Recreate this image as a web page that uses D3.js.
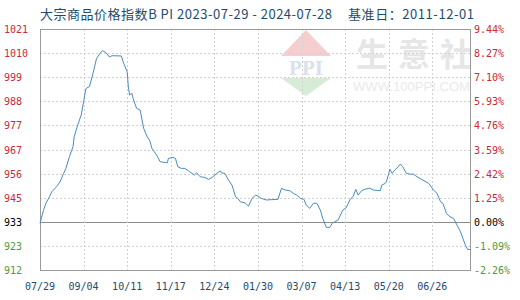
<!DOCTYPE html>
<html>
<head>
<meta charset="utf-8">
<script src="https://cdn.jsdelivr.net/npm/d3@7"></script>
<style>
  body { margin: 0; background: #fff; }
  svg { display: block; }
</style>
</head>
<body>
<div class="chart"></div>
<script>
const width = 520;
const height = 300;

// chart data
const dates = ["2023-07-29","2023-08-01","2023-08-03","2023-08-06","2023-08-08","2023-08-12","2023-08-15","2023-08-18","2023-08-20","2023-08-23",
  "2023-08-26","2023-08-27","2023-08-30","2023-09-02","2023-09-04","2023-09-06","2023-09-09","2023-09-12","2023-09-15","2023-09-18",
  "2023-09-20","2023-09-23","2023-09-26","2023-09-28","2023-10-06","2023-10-08","2023-10-11","2023-10-12","2023-10-13","2023-10-15",
  "2023-10-16","2023-10-19","2023-10-22","2023-10-25","2023-10-28","2023-10-30","2023-11-01","2023-11-05","2023-11-08","2023-11-14",
  "2023-11-15","2023-11-19","2023-11-21","2023-11-23","2023-11-26","2023-11-29","2023-12-03","2023-12-07","2023-12-09","2023-12-12",
  "2023-12-16","2023-12-19","2023-12-22","2023-12-26","2023-12-29","2023-12-30","2024-01-02","2024-01-05","2024-01-08","2024-01-11",
  "2024-01-13","2024-01-15","2024-01-19","2024-01-22","2024-01-25","2024-01-28","2024-01-30","2024-02-02","2024-02-06","2024-02-16",
  "2024-02-19","2024-02-22","2024-02-26","2024-02-29","2024-03-03","2024-03-06","2024-03-09","2024-03-11","2024-03-14","2024-03-17",
  "2024-03-20","2024-03-23","2024-03-25","2024-03-28","2024-03-31","2024-04-02","2024-04-04","2024-04-07","2024-04-11","2024-04-14",
  "2024-04-17","2024-04-20","2024-04-22","2024-04-24","2024-04-27","2024-04-30","2024-05-04","2024-05-07","2024-05-13","2024-05-14",
  "2024-05-17","2024-05-18","2024-05-20","2024-05-21","2024-05-23","2024-05-25","2024-05-28","2024-05-30","2024-06-01","2024-06-04",
  "2024-06-07","2024-06-10","2024-06-13","2024-06-18","2024-06-23","2024-06-27","2024-06-30","2024-07-03","2024-07-05","2024-07-08",
  "2024-07-11","2024-07-14","2024-07-17","2024-07-20","2024-07-22","2024-07-24","2024-07-26","2024-07-28"];
const bpi = [933.0,939.0,942.1,945.0,947.3,949.6,951.8,955.6,957.9,963.2,
  967.7,972.2,977.5,982.1,988.1,994.1,994.9,1000.9,1007.7,1010.0,
  1011.2,1010.3,1008.3,1008.9,1008.8,1005.5,1001.7,994.9,991.1,991.9,
  989.6,985.1,984.3,976.0,972.2,970.7,967.0,963.9,960.9,960.4,
  962.4,962.9,962.4,958.6,957.9,957.9,956.4,954.9,955.9,954.1,
  953.8,952.9,953.8,955.6,956.8,955.9,955.6,952.6,950.3,945.0,
  944.3,942.8,942.3,940.8,944.3,945.8,945.4,944.3,943.6,943.9,
  948.9,948.1,947.8,946.6,945.8,944.3,943.9,941.3,939.8,942.1,
  942.1,939.0,935.3,931.2,931.2,933.0,933.7,934.5,939.0,940.2,
  943.6,945.4,948.4,945.8,947.8,948.5,948.9,948.1,947.8,950.3,
  951.1,951.8,955.6,957.5,955.6,957.1,958.6,959.9,958.6,955.6,
  955.3,955.3,954.1,952.6,951.1,948.1,946.6,942.8,942.1,937.5,
  936.0,935.3,932.2,929.2,926.2,923.2,921.2,921.2];

const leftLabels = ["1021","1010","999","988","977","967","956","945","933","923","912"];
const rightLabels = ["9.44%","8.27%","7.10%","5.93%","4.76%","3.59%","2.42%","1.25%","0.00%","-1.09%","-2.26%"];
const xTickDates = ["2023-07-29","2023-09-04","2023-10-11","2023-11-17","2023-12-24","2024-01-30","2024-03-07","2024-04-13","2024-05-20","2024-06-26"];
const baseIndex = 8; // the 933 / 0.00% row
const title = "大宗商品价格指数B PI 2023-07-29 - 2024-07-28";
const baseDate = "基准日：2011-12-01";

const parse = d3.timeParse("%Y-%m-%d");
const fmt = d3.timeFormat("%m/%d");
const data = dates.map((d, i) => ({ date: parse(d), value: bpi[i] }));

const plotLeft = 40, plotRight = 470, plotTop = 29, plotBottom = 270;

const svg = d3.select(".chart").append("svg").attr("width", width).attr("height", height);

const x = d3.scaleTime().domain([parse("2023-07-29"), parse("2024-07-28")]).range([plotLeft, plotRight]);
const y = d3.scaleLinear().domain([911.9, 1021.0]).range([plotBottom, plotTop]);
const row = d3.scaleLinear().domain([0, leftLabels.length - 1]).range([plotTop, plotBottom]);

function labelColor(i) {
    if (i < baseIndex) return "#c8283c";
    if (i == baseIndex) return "#000000";
    return "#4e9a3e";
}

// watermark
const wm = svg.append("g").attr("opacity", 0.6);
wm.append("path").attr("d", "M306,30 L331,56 L281,56 Z").attr("fill", "#f0b0b0");
wm.append("path").attr("d", "M281,78 L331,78 L306,96 Z").attr("fill", "#bde0bd");
wm.append("text").attr("x", 306).attr("y", 75).attr("text-anchor", "middle")
    .attr("font-family", "Liberation Serif").attr("font-size", 21).attr("font-weight", "bold")
    .attr("fill", "#c2cde0").text("PPI");
wm.append("text").attr("x", 356).attr("y", 66)
    .attr("font-family", "Noto Sans CJK SC").attr("font-size", 32).attr("font-weight", "bold")
    .attr("textLength", 116).attr("lengthAdjust", "spacing")
    .attr("fill", "#d6d6d6").text("生意社");
wm.append("text").attr("x", 353).attr("y", 91)
    .attr("font-family", "Liberation Sans").attr("font-size", 12)
    .attr("textLength", 117).attr("lengthAdjust", "spacingAndGlyphs")
    .attr("fill", "#dcdcdc").text("WWW.100PPI.COM");

// grid
svg.append("g").selectAll("line").data(leftLabels).enter().append("line")
    .attr("x1", plotLeft).attr("x2", plotRight)
    .attr("y1", (d, i) => Math.round(row(i)) + 0.5).attr("y2", (d, i) => Math.round(row(i)) + 0.5)
    .attr("stroke", (d, i) => i == baseIndex ? "#8c8c8c" : "#d0d0d0")
    .attr("stroke-dasharray", (d, i) => i == baseIndex ? null : "2,2");

svg.append("g").selectAll("line").data(xTickDates.slice(1)).enter().append("line")
    .attr("x1", d => Math.round(x(parse(d))) + 0.5).attr("x2", d => Math.round(x(parse(d))) + 0.5)
    .attr("y1", plotTop).attr("y2", plotBottom)
    .attr("stroke", "#d0d0d0").attr("stroke-dasharray", "2,2");

// frame
svg.append("rect").attr("x", plotLeft + 0.5).attr("y", plotTop + 0.5)
    .attr("width", plotRight - plotLeft).attr("height", plotBottom - plotTop)
    .attr("fill", "none").attr("stroke", "#9a9a9a");

// line
const line = d3.line().x(d => x(d.date)).y(d => y(d.value));
svg.append("path").datum(data).attr("d", line)
    .attr("fill", "none").attr("stroke", "#4b8bbe").attr("stroke-width", 1);

// axis labels
svg.append("g").selectAll("text").data(leftLabels).enter().append("text")
    .attr("x", 4).attr("y", (d, i) => row(i) + 4)
    .attr("font-family", "DejaVu Sans Mono").attr("font-size", 10)
    .attr("fill", (d, i) => labelColor(i)).text(d => d);

svg.append("g").selectAll("text").data(rightLabels).enter().append("text")
    .attr("x", 474).attr("y", (d, i) => row(i) + 4)
    .attr("font-family", "DejaVu Sans Mono").attr("font-size", 10)
    .attr("fill", (d, i) => labelColor(i)).text(d => d);

svg.append("g").selectAll("text").data(xTickDates).enter().append("text")
    .attr("x", d => x(parse(d))).attr("y", 290).attr("text-anchor", "middle")
    .attr("font-family", "DejaVu Sans Mono").attr("font-size", 10)
    .attr("fill", "#1e4b6e").text(d => fmt(parse(d)));

// title
svg.append("text").attr("x", 40).attr("y", 19)
    .attr("font-family", "Noto Sans CJK SC").attr("font-size", 13)
    .attr("textLength", 292).attr("lengthAdjust", "spacing")
    .attr("fill", "#1e4b6e").text(title);
svg.append("text").attr("x", 348).attr("y", 19)
    .attr("font-family", "Noto Sans CJK SC").attr("font-size", 13)
    .attr("textLength", 126).attr("lengthAdjust", "spacing")
    .attr("fill", "#1e4b6e").text(baseDate);
</script>
</body>
</html>
